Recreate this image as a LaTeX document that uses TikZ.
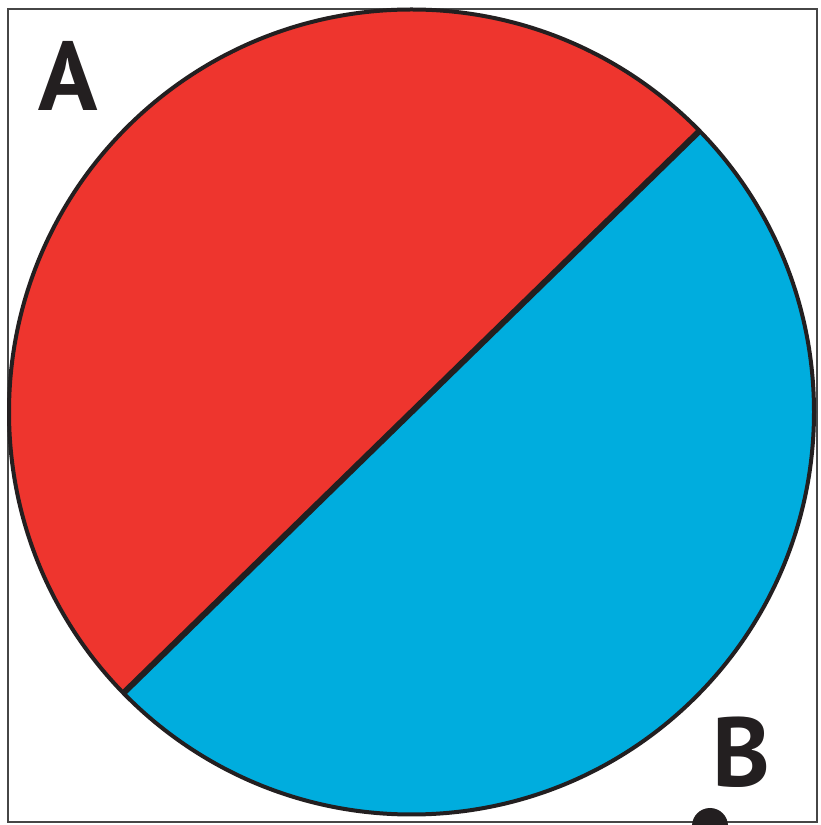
\documentclass[tikz,border=0pt]{standalone}
\usepackage{fontspec}
\setsansfont{PT Sans}
\usetikzlibrary{positioning,calc}
\definecolor{dRed}{RGB}{238,53,46}
\definecolor{dBlue}{RGB}{0,173,222}
\definecolor{dInk}{RGB}{35,31,32}
\definecolor{dFrame}{RGB}{70,70,70}
\tikzset{
  half/.style={draw=dInk, line width=4pt, line join=round},
  cut/.style={draw=dInk, line width=6pt},
  frm/.style={draw=dFrame, line width=2pt},
  lab/.style={font=\fontsize{98}{98}\selectfont\sffamily\bfseries, text=dInk,
              inner sep=0pt, anchor=center},
}

\begin{document}
\begin{tikzpicture}[x=1pt, y=1pt]
  \useasboundingbox (0,0) rectangle (820,825);
  \clip (0,0) rectangle (820,825);
  % --- frame and centre -----------------------------------------------------
  \draw[frm] (8,3) rectangle (817,816);
  \coordinate (ctr) at (411.5,413);

  % --- the two halves of the disc -------------------------------------------
  \fill[dRed]  (ctr) ++(44.3:402.5) arc[start angle=44.3, end angle=224.3, radius=402.5] -- cycle;
  \fill[dBlue] (ctr) ++(224.3:402.5) arc[start angle=224.3, end angle=404.3, radius=402.5] -- cycle;
  \draw[half] (ctr) circle[radius=402.5];
  \coordinate (cutA) at ($(ctr)+(44.3:402.5)$);
  \coordinate (cutB) at ($(ctr)+(224.3:402.5)$);
  \draw[cut] (cutA) -- (cutB);

  % --- labels and dot -------------------------------------------------------
  \node[lab] (labA) at (68,749) {A};
  \node[lab] (labB) at (741,73) {B};
  \fill[dInk] (710,-1) circle[radius=18];
\end{tikzpicture}
\end{document}
